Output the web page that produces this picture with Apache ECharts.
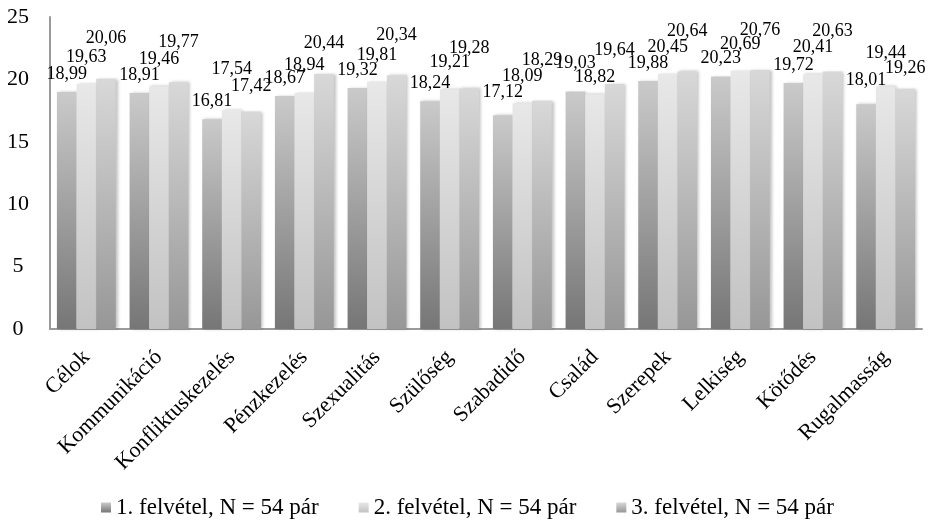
<!DOCTYPE html>
<html>
<head>
<meta charset="utf-8">
<script src="https://cdn.jsdelivr.net/npm/echarts@6/dist/echarts.min.js"></script>
<style>html,body{margin:0;padding:0;background:#fff}#c{width:935px;height:525px}</style>
</head>
<body>
<div id="c"></div>
<script>
var categories = ['Célok','Kommunikáció','Konfliktuskezelés','Pénzkezelés','Szexualitás','Szülőség','Szabadidő','Család','Szerepek','Lelkiség','Kötődés','Rugalmasság'];
var seriesNames = ['1. felvétel, N = 54 pár','2. felvétel, N = 54 pár','3. felvétel, N = 54 pár'];
var felvetel1 = [18.99,18.91,16.81,18.67,19.32,18.24,17.12,19.03,19.88,20.23,19.72,18.01];
var felvetel2 = [19.63,19.46,17.54,18.94,19.81,19.21,18.09,18.82,20.45,20.69,20.41,19.44];
var felvetel3 = [20.06,19.77,17.42,20.44,20.34,19.28,18.29,19.64,20.64,20.76,20.63,19.26];
var yTicks = [0,5,10,15,20,25];

var FONT = '"Liberation Serif","Times New Roman",serif';
function grad(top, bottom){
  return new echarts.graphic.LinearGradient(0,0,0,1,[{offset:0,color:top},{offset:1,color:bottom}]);
}
var styles = [
  {c: grad('#cacaca','#767676'), dist: 9},
  {c: grad('#e8e8e8','#c2c2c2'), dist: 18},
  {c: grad('#d8d8d8','#979797'), dist: 31}
];
// label placement tweaks (series index -> category -> distance), mimicking the manual label layout
var labelTweaks = [
  {'Család':19, 'Rugalmasság':15, 'Szabadidő':14},
  {'Konfliktuskezelés':32, 'Család':8, 'Rugalmasság':24},
  {'Konfliktuskezelés':16, 'Család':25, 'Rugalmasság':11, 'Pénzkezelés':22}
];
var data = [felvetel1, felvetel2, felvetel3];
var series = data.map(function(d,i){
  return {
    name: seriesNames[i], type:'bar',
    data: d.map(function(v,j){
      var t = labelTweaks[i][categories[j]];
      return t === undefined ? v : {value:v, label:{distance:t}};
    }),
    barGap:'0%', barCategoryGap:'19%',
    itemStyle:{color: styles[i].c, shadowColor:'rgba(0,0,0,0.25)', shadowBlur:3, shadowOffsetX:2, shadowOffsetY:0},
    label:{show:true, position:'top', distance: styles[i].dist, color:'#000', fontFamily:FONT, fontSize:18,
      formatter:function(p){return p.value.toFixed(2).replace('.',',');}}
  };
});
var chart = echarts.init(document.getElementById('c'));
chart.setOption({
  animation:false,
  backgroundColor:'#fff',
  grid:{left:50, right:13, top:17, bottom:196, containLabel:false},
  legend:{top:491, left:'center', itemWidth:10, itemHeight:10, itemGap:40, icon:'rect',
    textStyle:{fontFamily:FONT, fontSize:23, color:'#000'}, data:seriesNames},
  xAxis:{type:'category', data:categories,
    axisLine:{lineStyle:{color:'#9a9a9a', width:2}},
    axisTick:{show:false},
    axisLabel:{rotate:45, interval:0, margin:25, fontFamily:FONT, fontSize:22, color:'#000'}},
  yAxis:{type:'value', min:yTicks[0], max:yTicks[yTicks.length-1], interval:yTicks[1]-yTicks[0],
    axisLine:{show:true, lineStyle:{color:'#9a9a9a', width:2}},
    axisTick:{show:false},
    splitLine:{show:false},
    axisLabel:{align:'center', margin:32, fontFamily:FONT, fontSize:22, color:'#000'}},
  series: series
});
</script>
</body>
</html>
